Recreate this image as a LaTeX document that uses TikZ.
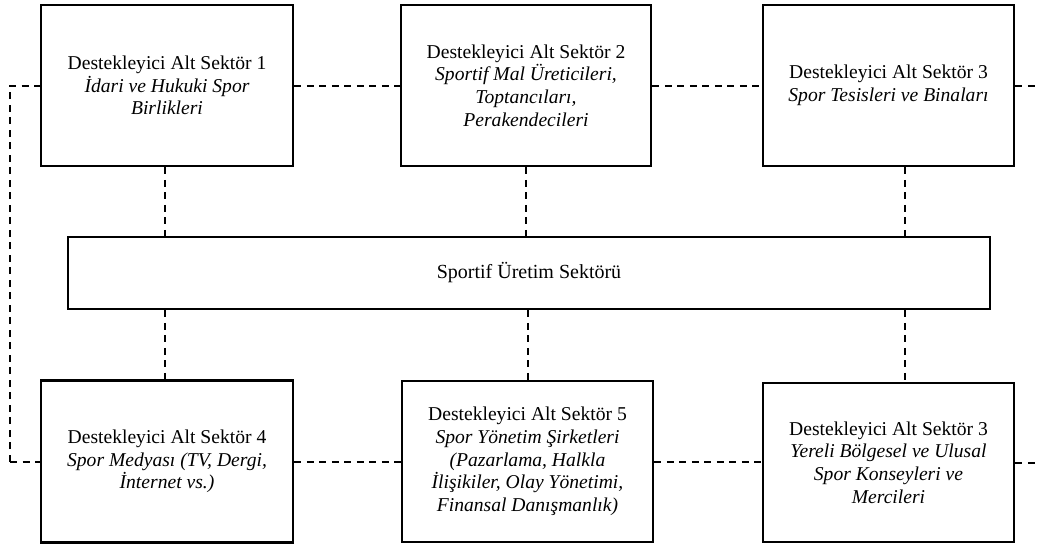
\documentclass[tikz,border=0pt]{standalone}
\usepackage{fontspec}
\setmainfont{Liberation Serif}
\begin{document}
\begin{tikzpicture}[x=1pt,y=-1pt,
  sector/.style={draw, line width=2.6pt, rectangle, inner sep=0pt, align=center,
    font=\fontsize{19.6}{22.7}\selectfont},
  core/.style={draw, line width=2.6pt, rectangle, inner sep=0pt,
    font=\fontsize{20}{22}\selectfont},
  link/.style={line width=2pt, dash pattern=on 7pt off 5.5pt}]
\useasboundingbox (0,0) rectangle (1038,546);

% upper row of supporting sub-sectors
\node[sector, minimum width=252pt, minimum height=161pt] (s1) at (167,85.5)
  {Destekleyici Alt Sektör 1\\ \textit{İdari ve Hukuki Spor}\\ \textit{Birlikleri}};
\node[sector, minimum width=250pt, minimum height=161pt] (s2) at (526,85.5)
  {Destekleyici Alt Sektör 2\\ \textit{Sportif Mal Üreticileri,}\\ \textit{Toptancıları,}\\ \textit{Perakendecileri}};
\node[sector, minimum width=251pt, minimum height=161pt] (s3) at (888.5,85.5)
  {Destekleyici Alt Sektör 3\\ \textit{Spor Tesisleri ve Binaları}};

% central production sector
\node[core, minimum width=922pt, minimum height=72pt] (mid) at (529,273)
  {Sportif Üretim Sektörü};

% lower row of supporting sub-sectors
\node[sector, minimum width=252pt, minimum height=162pt] (s4) at (167,461.5)
  {Destekleyici Alt Sektör 4\\ \textit{Spor Medyası (TV, Dergi,}\\ \textit{İnternet vs.)}};
\node[sector, minimum width=251pt, minimum height=161pt] (s5) at (527.5,461.5)
  {Destekleyici Alt Sektör 5\\ \textit{Spor Yönetim Şirketleri}\\ \textit{(Pazarlama, Halkla}\\ \textit{İlişikiler, Olay Yönetimi,}\\ \textit{Finansal Danışmanlık)}};
\node[sector, minimum width=251pt, minimum height=159pt] (s6) at (888.5,462.5)
  {Destekleyici Alt Sektör 3\\ \textit{Yereli Bölgesel ve Ulusal}\\ \textit{Spor Konseyleri ve}\\ \textit{Mercileri}};

% free ends of the outer dashed links
\coordinate (lt) at (10,85.5);
\coordinate (lb) at (10,461.5);
\coordinate (rt) at (1038,85.5);
\coordinate (rb) at (1038,462.5);

% horizontal links
\draw[link] (lb) -- (lt) -- (s1.west);
\draw[link] (s1.east) -- (s2.west);
\draw[link] (s2.east) -- (s3.west);
\draw[link] (s3.east) -- (rt);
\draw[link] (lb) -- (s4.west);
\draw[link] (s4.east) -- (s5.west);
\draw[link] (s5.east -| s5.east) -- (s5.east -| s6.west);
\draw[link] (s6.east) -- (rb);

% vertical links to the central sector
\draw[link] ([xshift=-2pt]s1.south) -- ([xshift=-2pt]s1.south |- mid.north);
\draw[link] (s2.south) -- (s2.south |- mid.north);
\draw[link] ([xshift=16pt]s3.south) -- ([xshift=16pt]s3.south |- mid.north);
\draw[link] ([xshift=-2pt]mid.south -| s4.north) -- ([xshift=-2pt]s4.north);
\draw[link] (mid.south -| s5.north) -- (s5.north);
\draw[link] ([xshift=16pt]mid.south -| s6.north) -- ([xshift=16pt]s6.north);
\end{tikzpicture}
\end{document}
